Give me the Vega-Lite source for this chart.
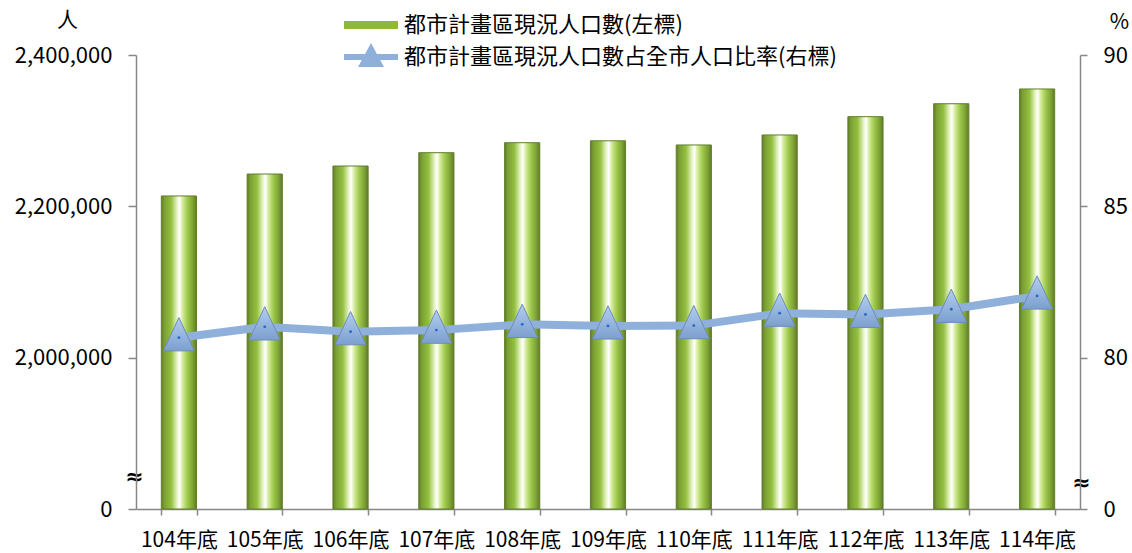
{
  "$schema": "https://vega.github.io/schema/vega-lite/v6.json",
  "width": 944,
  "height": 454,
  "autosize": {"type": "none"},
  "padding": {"left": 136, "top": 55, "right": 52, "bottom": 44},
  "background": "white",
  "config": {
    "view": {"stroke": null},
    "font": "Noto Sans CJK TC",
    "axis": {
      "domainColor": "#878787", "domainWidth": 1.5, "tickColor": "#878787", "tickWidth": 1.5,
      "labelFont": "Noto Sans CJK TC", "labelFontSize": 22, "labelColor": "#000000",
      "grid": false, "titleFont": "Noto Sans CJK TC", "titleFontSize": 21,
      "titleFontWeight": "normal", "titleColor": "#000000"
    },
    "axisX": {"tickBand": "extent", "tickSize": 6, "labelAngle": 0, "labelPadding": 14, "labelFontSize": 21, "title": null}
  },
  "datasets": {
    "main": [
      {"year": "104年底", "pop": 2213700, "pct": 80.66},
      {"year": "105年底", "pop": 2242700, "pct": 81.02},
      {"year": "106年底", "pop": 2253300, "pct": 80.86},
      {"year": "107年底", "pop": 2270900, "pct": 80.91},
      {"year": "108年底", "pop": 2284100, "pct": 81.10},
      {"year": "109年底", "pop": 2286600, "pct": 81.05},
      {"year": "110年底", "pop": 2281100, "pct": 81.06},
      {"year": "111年底", "pop": 2294300, "pct": 81.47},
      {"year": "112年底", "pop": 2318500, "pct": 81.43},
      {"year": "113年底", "pop": 2335600, "pct": 81.60},
      {"year": "114年底", "pop": 2355100, "pct": 82.04}
    ],
    "legend": [
      {"s": "都市計畫區現況人口數(左標)"},
      {"s": "都市計畫區現況人口數占全市人口比率(右標)"}
    ]
  },
  "layer": [
    {
      "data": {"name": "main"},
      "mark": {
        "type": "bar",
        "fill": {
          "gradient": "linear", "x1": 0, "y1": 0, "x2": 1, "y2": 0,
          "stops": [
            {"offset": 0, "color": "#5d7a26"},
            {"offset": 0.08, "color": "#7a9e33"},
            {"offset": 0.28, "color": "#94c040"},
            {"offset": 0.45, "color": "#e8f5c8"},
            {"offset": 0.52, "color": "#ffffff"},
            {"offset": 0.6, "color": "#d7ec9e"},
            {"offset": 0.75, "color": "#9cc84a"},
            {"offset": 0.9, "color": "#7da035"},
            {"offset": 1, "color": "#5d7a26"}
          ]
        },
        "stroke": "#627f2c",
        "strokeWidth": 1
      },
      "encoding": {
        "x": {"field": "year", "type": "ordinal", "sort": null,
              "scale": {"paddingInner": 0.59, "paddingOuter": 0.295},
              "axis": {"title": null}},
        "y": {
          "field": "pop", "type": "quantitative",
          "scale": {"domain": [1800000, 2400000], "nice": false, "zero": false},
          "axis": {
            "title": "人", "titleAngle": 0, "titleX": -69, "titleY": -35,
            "titleAlign": "center", "titleBaseline": "middle",
            "values": [1800000, 1843600, 2000000, 2200000, 2400000],
            "labelExpr": "datum.value > 1800000 && datum.value < 1900000 ? '≈' : datum.value == 1800000 ? '0' : format(datum.value, ',')",
            "tickSize": 8,
            "labelPadding": {"condition": {"test": "datum.value > 1800000 && datum.value < 1900000", "value": -6}, "value": 16},
            "labelAlign": {"condition": {"test": "datum.value > 1800000 && datum.value < 1900000", "value": "center"}, "value": "right"},
            "labelFont": {"condition": {"test": "datum.value > 1800000 && datum.value < 1900000", "value": "DejaVu Sans"}, "value": "Noto Sans CJK TC"},
            "labelFontWeight": {"condition": {"test": "datum.value > 1800000 && datum.value < 1900000", "value": "bold"}, "value": "normal"},
            "labelFontSize": {"condition": {"test": "datum.value > 1800000 && datum.value < 1900000", "value": 22}, "value": 22},
            "tickOpacity": {"condition": {"test": "datum.value > 1800000 && datum.value < 1900000", "value": 0}, "value": 1},
            "labelOverlap": false, "labelBound": false, "labelFlush": false
          }
        },
        "y2": {"datum": 1800000}
      }
    },
    {
      "data": {"name": "main"},
      "encoding": {
        "x": {"field": "year", "type": "ordinal", "sort": null, "axis": {"title": null}},
        "y": {
          "field": "pct", "type": "quantitative",
          "scale": {"domain": [75, 90], "nice": false, "zero": false},
          "axis": {
            "orient": "right",
            "title": "%", "titleAngle": 0, "titleX": 39, "titleY": -33,
            "titleAlign": "center", "titleBaseline": "middle",
            "values": [75, 75.89, 80, 85, 90],
            "labelExpr": "datum.value > 75 && datum.value < 76 ? '≈' : datum.value == 75 ? '0' : format(datum.value, 'd')",
            "tickSize": 7,
            "labelPadding": {"condition": {"test": "datum.value > 75 && datum.value < 76", "value": -6}, "value": 16},
            "labelAlign": {"condition": {"test": "datum.value > 75 && datum.value < 76", "value": "center"}, "value": "left"},
            "labelFont": {"condition": {"test": "datum.value > 75 && datum.value < 76", "value": "DejaVu Sans"}, "value": "Noto Sans CJK TC"},
            "labelFontWeight": {"condition": {"test": "datum.value > 75 && datum.value < 76", "value": "bold"}, "value": "normal"},
            "labelFontSize": {"condition": {"test": "datum.value > 75 && datum.value < 76", "value": 22}, "value": 22},
            "tickOpacity": {"condition": {"test": "datum.value > 75 && datum.value < 76", "value": 0}, "value": 1},
            "labelOverlap": false, "labelBound": false, "labelFlush": false
          }
        }
      },
      "layer": [
        {"mark": {"type": "line", "stroke": "#8eb0db", "strokeWidth": 8}, "encoding": {}},
        {"mark": {
          "type": "point", "shape": "M0,-1.3L-1,0.85L1,0.85Z", "size": 961, "filled": true, "opacity": 1,
          "fill": {"gradient": "linear", "x1": 0, "y1": 0, "x2": 0, "y2": 1,
                   "stops": [{"offset": 0, "color": "#b3cdef"}, {"offset": 1, "color": "#7c9fcf"}]},
          "stroke": "#6d8cbc", "strokeWidth": 1
        }, "encoding": {}},
        {"mark": {"type": "point", "size": 8, "filled": true, "opacity": 1, "color": "#1e6cc8"}, "encoding": {}}
      ]
    },
    {
      "data": {"name": "legend"},
      "mark": {"type": "point", "size": 0, "filled": true, "opacity": 1},
      "encoding": {
        "color": {
          "field": "s", "type": "nominal", "sort": null,
          "scale": {"domain": ["都市計畫區現況人口數(左標)", "都市計畫區現況人口數占全市人口比率(右標)"], "range": ["#8db83a", "#8eb0db"]},
          "legend": {"orient": "none", "legendX": 207, "legendY": -41, "title": null, "direction": "vertical",
                     "labelFont": "Noto Sans CJK TC", "labelFontSize": 22, "labelColor": "#000000", "labelLimit": 0,
                     "symbolSize": 400, "labelOffset": 39, "rowPadding": 7, "symbolStrokeWidth": 0, "symbolOpacity": 1}
        },
        "shape": {
          "field": "s", "type": "nominal", "sort": null,
          "scale": {"domain": ["都市計畫區現況人口數(左標)", "都市計畫區現況人口數占全市人口比率(右標)"],
                    "range": ["M-1,-0.4H4.4V0.4H-1Z", "M-1,-0.3H4.4V0.3H-1Z M1.7,-1.4L3,1L0.4,1Z"]},
          "legend": {"orient": "none", "legendX": 207, "legendY": -41, "title": null, "direction": "vertical",
                     "labelFont": "Noto Sans CJK TC", "labelFontSize": 22, "labelColor": "#000000", "labelLimit": 0,
                     "symbolSize": 400, "labelOffset": 39, "rowPadding": 7, "symbolStrokeWidth": 0, "symbolOpacity": 1}
        }
      }
    }
  ],
  "resolve": {"scale": {"y": "independent"}}
}
